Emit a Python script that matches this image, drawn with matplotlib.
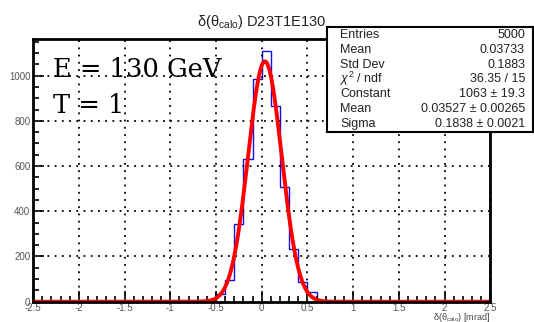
import numpy as np
import matplotlib
matplotlib.use("Agg")
import matplotlib.pyplot as plt
from matplotlib.ticker import MultipleLocator

plt.rcParams["font.family"] = ["Liberation Sans", "DejaVu Sans"]
plt.rcParams["mathtext.fontset"] = "custom"
plt.rcParams["mathtext.rm"] = "Liberation Sans"
plt.rcParams["mathtext.it"] = "Liberation Sans:italic"

# histogram bins (0.1 mrad wide) and counts
bin_edges = [-0.7, -0.6, -0.5, -0.4, -0.3, -0.2, -0.1, 0.0, 0.1, 0.2, 0.3, 0.4, 0.5, 0.6, 0.7]
counts = [2, 5, 33, 96, 342, 631, 984, 1109, 866, 506, 233, 88, 42, 5]

# gaussian fit parameters from the stats box
fit_const = 1063
fit_mean = 0.03527
fit_sigma = 0.1838

stats_labels = ["Entries", "Mean", "Std Dev", r"$\chi^2$ / ndf", "Constant", "Mean", "Sigma"]
stats_values = ["5000", "0.03733", "0.1883", "36.35 / 15", "1063 \u00b1 19.3",
                "0.03527 \u00b1 0.00265", "0.1838 \u00b1 0.0021"]

fig = plt.figure(figsize=(5.34, 3.22), dpi=100)
ax = fig.add_axes([0.062, 0.063, 0.856, 0.816])

# full-range histogram, empty outside the filled bins
edges = np.concatenate([[-2.5], bin_edges, [2.5]])
vals = np.concatenate([[0], counts, [0]])
ax.stairs(vals, edges, color="#1010e0", lw=1.0)

xf = np.linspace(-2.5, 2.5, 600)
ax.plot(xf, fit_const * np.exp(-0.5 * ((xf - fit_mean) / fit_sigma) ** 2), color="red", lw=2.8)

ax.set_xlim(-2.5, 2.5)
ax.set_ylim(0, 1162)
ax.xaxis.set_major_locator(MultipleLocator(0.5))
ax.xaxis.set_minor_locator(MultipleLocator(0.1))
ax.yaxis.set_major_locator(MultipleLocator(200))
ax.yaxis.set_minor_locator(MultipleLocator(50))
ax.tick_params(which="both", direction="in", top=False, right=False, labelsize=7,
               labelcolor="#555555", width=1.2)
ax.tick_params(which="major", length=8)
ax.tick_params(which="minor", length=4)
ax.tick_params(axis="x", pad=1)
ax.tick_params(axis="y", pad=2)
ax.set_xticklabels([f"{v:g}" for v in ax.get_xticks()])
ax.grid(True, which="major", color="black", linestyle=(0, (1, 3)), lw=1.3)
for s in ax.spines.values():
    s.set_linewidth(2)

ax.set_title("\u03b4(\u03b8$_{\\rm calo}$) D23T1E130", fontsize=10.5, pad=9, color="#222222")
fig.text(490 / 534, 1 - 317 / 322, "\u03b4(\u03b8$_{\\rm calo}$) [mrad]", fontsize=6.5,
         ha="right", va="center", color="#444444")

ax.text(0.043, 0.885, "E = 130 GeV", transform=ax.transAxes, family="DejaVu Serif",
        fontsize=18.5, va="center", ha="left")
ax.text(0.043, 0.745, "T = 1", transform=ax.transAxes, family="DejaVu Serif",
        fontsize=18.5, va="center", ha="left")

# stats box
bx0, by0, bx1, by1 = 327 / 534, 1 - 132 / 322, 533 / 534, 1 - 27 / 322
box = plt.Rectangle((bx0, by0), bx1 - bx0, by1 - by0, transform=fig.transFigure,
                    facecolor="white", edgecolor="black", lw=1.5, zorder=5)
fig.add_artist(box)
for i, (lab, val) in enumerate(zip(stats_labels, stats_values)):
    y = 1 - (35 + i * 14.8) / 322
    fig.text(340 / 534, y, lab, fontsize=9, va="center", ha="left", zorder=6, color="#222222")
    fig.text(525 / 534, y, val, fontsize=9, va="center", ha="right", zorder=6, color="#222222")

fig.savefig("out.png", dpi=100)
